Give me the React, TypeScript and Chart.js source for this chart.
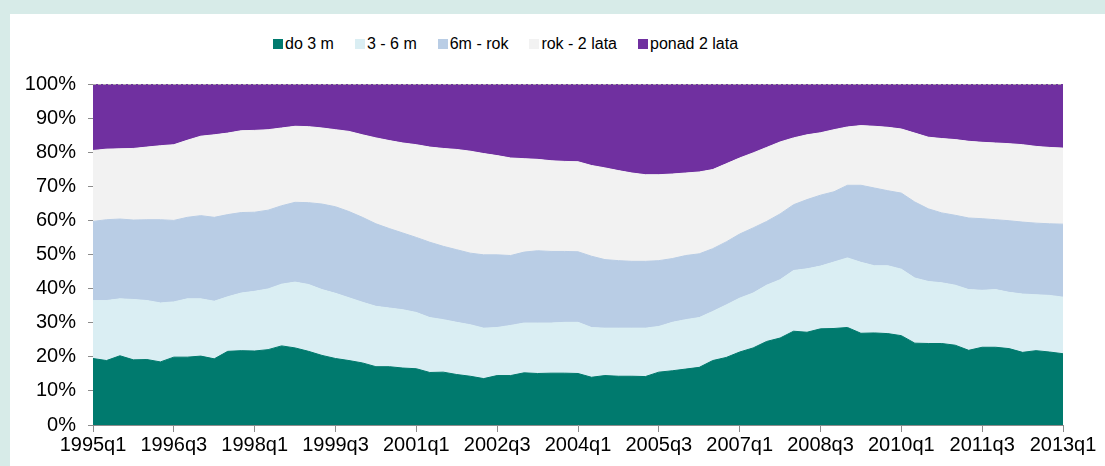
import React, { useEffect, useRef } from "react";
import { Chart, registerables } from "chart.js";

Chart.register(...registerables);

const categories = [
  "1995q1","1995q2","1995q3","1995q4","1996q1","1996q2","1996q3","1996q4",
  "1997q1","1997q2","1997q3","1997q4","1998q1","1998q2","1998q3","1998q4",
  "1999q1","1999q2","1999q3","1999q4","2000q1","2000q2","2000q3","2000q4",
  "2001q1","2001q2","2001q3","2001q4","2002q1","2002q2","2002q3","2002q4",
  "2003q1","2003q2","2003q3","2003q4","2004q1","2004q2","2004q3","2004q4",
  "2005q1","2005q2","2005q3","2005q4","2006q1","2006q2","2006q3","2006q4",
  "2007q1","2007q2","2007q3","2007q4","2008q1","2008q2","2008q3","2008q4",
  "2009q1","2009q2","2009q3","2009q4","2010q1","2010q2","2010q3","2010q4",
  "2011q1","2011q2","2011q3","2011q4","2012q1","2012q2","2012q3","2012q4",
  "2013q1",
];

const tickLabels = [
  "1995q1","1996q3","1998q1","1999q3","2001q1","2002q3","2004q1",
  "2005q3","2007q1","2008q3","2010q1","2011q3","2013q1",
];

const seriesNames = ["do 3 m", "3 - 6 m", "6m - rok", "rok - 2 lata", "ponad 2 lata"];

const do3m = [
  19.5,18.9,20.3,19.1,19.2,18.5,19.9,19.9,20.2,19.4,
  21.6,21.8,21.7,22.1,23.2,22.6,21.6,20.4,19.5,18.9,
  18.2,17.1,17.1,16.7,16.5,15.4,15.5,14.8,14.3,13.6,
  14.5,14.5,15.3,15.1,15.2,15.2,15.1,14.0,14.5,14.3,
  14.3,14.2,15.5,15.9,16.4,16.9,18.9,19.8,21.4,22.6,
  24.5,25.5,27.5,27.2,28.2,28.3,28.6,26.9,27.0,26.8,
  26.2,24.0,23.9,23.9,23.4,21.9,22.8,22.8,22.4,21.3,
  21.8,21.4,20.9,
];

const m3to6 = [
  17.0,17.6,16.7,17.7,17.3,17.3,16.2,17.1,16.8,16.9,
  16.0,16.9,17.5,17.8,18.1,19.3,19.6,19.3,19.1,18.4,
  17.8,17.7,17.2,17.1,16.5,16.1,15.4,15.3,15.1,14.8,
  14.1,14.7,14.6,14.8,14.7,14.9,15.0,14.6,13.9,14.1,
  14.1,14.2,13.4,14.2,14.5,14.6,14.4,15.4,15.8,16.1,
  16.5,17.1,17.8,18.6,18.4,19.5,20.4,20.8,19.7,19.9,
  19.5,19.1,18.2,17.8,17.6,17.8,16.7,16.9,16.5,17.1,
  16.4,16.6,16.6,
];

const m6to12 = [
  23.2,23.7,23.4,23.3,23.7,24.4,23.9,23.9,24.4,24.6,
  24.1,23.6,23.2,23.1,23.0,23.4,24.0,25.1,25.4,25.3,
  24.9,24.2,23.3,22.5,22.0,22.1,21.5,21.3,21.0,21.5,
  21.3,20.5,20.8,21.2,21.0,20.8,20.7,20.9,20.1,19.8,
  19.6,19.6,19.3,18.7,18.8,18.7,18.4,18.5,18.8,19.1,
  18.7,19.3,19.3,20.3,20.8,20.6,21.3,22.6,22.8,22.0,
  22.3,22.3,21.3,20.5,20.5,21.0,21.0,20.5,21.0,21.1,
  21.0,21.0,21.4,
];

const y1to2 = [
  20.8,20.7,20.6,21.0,21.3,21.7,22.2,22.6,23.3,24.2,
  23.9,24.0,24.0,23.6,22.8,22.3,22.3,22.3,22.6,23.5,
  24.2,25.2,25.8,26.4,27.2,27.9,28.7,29.4,29.9,29.7,
  29.1,28.6,27.4,26.8,26.6,26.4,26.4,26.6,26.9,26.4,
  25.9,25.4,25.2,24.8,24.2,24.0,23.2,22.9,22.3,22.0,
  21.7,21.1,19.6,19.0,18.3,18.2,17.1,17.5,18.1,18.6,
  18.8,20.2,21.0,21.8,22.2,22.5,22.4,22.5,22.6,22.7,
  22.5,22.4,22.3,
];

const over2 = [
  19.5,19.1,19.0,18.9,18.5,18.1,17.8,16.5,15.3,14.9,
  14.4,13.7,13.6,13.4,12.9,12.4,12.5,12.9,13.4,13.9,
  14.9,15.8,16.6,17.3,17.8,18.5,18.9,19.2,19.7,20.4,
  21.0,21.7,21.9,22.1,22.5,22.7,22.8,23.9,24.6,25.4,
  26.1,26.6,26.6,26.4,26.1,25.8,25.1,23.4,21.7,20.2,
  18.6,17.0,15.8,14.9,14.3,13.4,12.6,12.2,12.4,12.7,
  13.2,14.4,15.6,16.0,16.3,16.8,17.1,17.3,17.5,17.8,
  18.3,18.6,18.8,
];

const seriesValues = [do3m, m3to6, m6to12, y1to2, over2];
const colors = ["#007A6E", "#DAEEF3", "#B9CDE5", "#F2F2F2", "#7030A0"];

const FONT = "'Liberation Sans', Arial, sans-serif";
const AXIS_GREY = "#8C8C8C";

const topDashPlugin = {
  id: "topDash",
  afterDatasetsDraw(chart: any) {
    const { ctx, chartArea } = chart;
    ctx.save();
    ctx.strokeStyle = "#A6A6A6";
    ctx.lineWidth = 1;
    ctx.setLineDash([3, 2]);
    ctx.beginPath();
    ctx.moveTo(chartArea.left, chartArea.top + 0.5);
    ctx.lineTo(chartArea.right, chartArea.top + 0.5);
    ctx.stroke();
    ctx.restore();
  },
};

export default function App() {
  const canvasRef = useRef<HTMLCanvasElement | null>(null);

  useEffect(() => {
    if (!canvasRef.current) return;
    const chart = new Chart(canvasRef.current, {
      type: "line",
      data: {
        labels: categories,
        datasets: seriesNames.map((name, i) => ({
          label: name,
          data: seriesValues[i],
          backgroundColor: colors[i],
          borderColor: colors[i],
          borderWidth: 1,
          pointRadius: 0,
          pointHoverRadius: 0,
          tension: 0,
          fill: i === 0 ? "origin" : "-1",
        })),
      },
      options: {
        animation: false,
        responsive: false,
        maintainAspectRatio: false,
        events: [],
        layout: { padding: { left: 8, right: 42, top: 84, bottom: 0 } },
        plugins: {
          legend: { display: false },
          tooltip: { enabled: false },
        },
        scales: {
          x: {
            type: "category",
            offset: false,
            afterBuildTicks: (scale: any) => {
              scale.ticks = scale.ticks.filter((t: any) =>
                tickLabels.includes(categories[t.value])
              );
            },
            afterFit: (scale: any) => {
              scale.height = 41;
            },
            grid: {
              drawOnChartArea: false,
              drawTicks: true,
              tickLength: 7,
              color: AXIS_GREY,
            },
            border: { display: true, color: AXIS_GREY, width: 1 },
            ticks: {
              autoSkip: false,
              maxRotation: 0,
              minRotation: 0,
              padding: 1,
              color: "#000",
              font: { family: FONT, size: 20 },
            },
          },
          y: {
            stacked: true,
            min: 0,
            max: 100,
            afterFit: (scale: any) => {
              scale.width = 85;
            },
            grid: {
              drawOnChartArea: false,
              drawTicks: true,
              tickLength: 5,
              color: AXIS_GREY,
            },
            border: { display: true, color: AXIS_GREY, width: 1 },
            ticks: {
              stepSize: 10,
              padding: 12,
              color: "#000",
              font: { family: FONT, size: 20 },
              callback: (v: any) => `${v}%`,
            },
          },
        },
      },
      plugins: [topDashPlugin],
    });
    return () => chart.destroy();
  }, []);

  return (
    <div
      style={{
        position: "fixed",
        left: 0,
        top: 0,
        width: 1105,
        height: 466,
        background: "#D7EBE8",
        overflow: "hidden",
      }}
    >
      <div
        style={{
          position: "absolute",
          left: 10,
          top: 14,
          right: 0,
          bottom: 0,
          background: "#FFFFFF",
        }}
      />
      <div
        style={{
          position: "absolute",
          left: 273,
          top: 34,
          height: 20,
          display: "flex",
          alignItems: "center",
          gap: 21,
          fontFamily: FONT,
          fontSize: 16,
          color: "#000",
          whiteSpace: "nowrap",
        }}
      >
        {seriesNames.map((name, i) => (
          <div key={name} style={{ display: "flex", alignItems: "center" }}>
            <span
              style={{
                display: "inline-block",
                width: 10,
                height: 10,
                background: colors[i],
                marginRight: 2,
              }}
            />
            <span style={{ lineHeight: "20px" }}>{name}</span>
          </div>
        ))}
      </div>
      <canvas
        ref={canvasRef}
        width={1105}
        height={466}
        style={{ position: "absolute", left: 0, top: 0, width: 1105, height: 466 }}
      />
    </div>
  );
}
